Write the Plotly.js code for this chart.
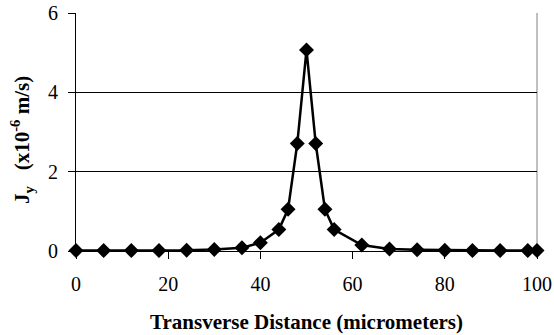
<!DOCTYPE html>
<html>
<head>
<meta charset="utf-8">
<script src="https://cdn.plot.ly/plotly-3.0.1.min.js"></script>
<style>html,body{margin:0;padding:0;background:#fff;}#chart{width:554px;height:335px;}</style>
</head>
<body>
<div id="chart"></div>
<script>
const distance = [0, 6, 12, 18, 24, 30, 36, 40, 44, 46, 48, 50, 52, 54, 56, 62, 68, 74, 80, 86, 92, 98, 100];
const jy = [0.01, 0.01, 0.01, 0.01, 0.02, 0.04, 0.08, 0.21, 0.54, 1.05, 2.71, 5.07, 2.71, 1.05, 0.54, 0.15, 0.05, 0.03, 0.02, 0.01, 0.01, 0.01, 0.01];
const xTicks = [0, 20, 40, 60, 80, 100];
const yTicks = [0, 2, 4, 6];

const fam = 'Liberation Serif';

Plotly.newPlot('chart', [{
  x: distance,
  y: jy,
  type: 'scatter',
  mode: 'lines+markers',
  line: {color: '#000', width: 2.5},
  marker: {symbol: 'diamond', size: 11.5, color: '#000'},
  cliponaxis: false,
  showlegend: false
}], {
  width: 554,
  height: 335,
  margin: {l: 76, r: 17, t: 13, b: 84},
  paper_bgcolor: '#fff',
  plot_bgcolor: '#fff',
  font: {family: fam, size: 20, color: '#000'},
  xaxis: {
    range: [0, 100],
    tickvals: xTicks,
    ticktext: xTicks.map(String),
    ticks: 'outside',
    ticklen: 7,
    tickcolor: '#000',
    showline: true,
    linecolor: '#000',
    linewidth: 1,
    showgrid: false,
    zeroline: false,
    ticklabelstandoff: 8,
    tickfont: {family: fam, size: 20, color: '#000'},
    title: {text: '<b>Transverse Distance (micrometers)</b>', font: {family: fam, size: 21, color: '#000'}, standoff: 20}
  },
  yaxis: {
    range: [0, 6],
    tickvals: yTicks,
    ticktext: yTicks.map(String),
    ticks: 'outside',
    ticklen: 7,
    tickcolor: '#000',
    showline: true,
    linecolor: '#000',
    linewidth: 1,
    showgrid: true,
    gridcolor: '#000',
    gridwidth: 1,
    zeroline: false,
    ticklabelstandoff: 6,
    tickfont: {family: fam, size: 20, color: '#000'},
    title: {text: '<b>J<sub>y</sub>&nbsp;&nbsp; (x10<sup>-6</sup> m/s)&nbsp;&nbsp;&nbsp;</b>', font: {family: fam, size: 21, color: '#000'}, standoff: 12}
  },
  shapes: [{
    type: 'line', xref: 'paper', yref: 'paper', x0: 1, x1: 1, y0: 0, y1: 1,
    line: {color: '#808080', width: 1}, layer: 'below'
  }]
}, {displayModeBar: false, staticPlot: true});
</script>
</body>
</html>
